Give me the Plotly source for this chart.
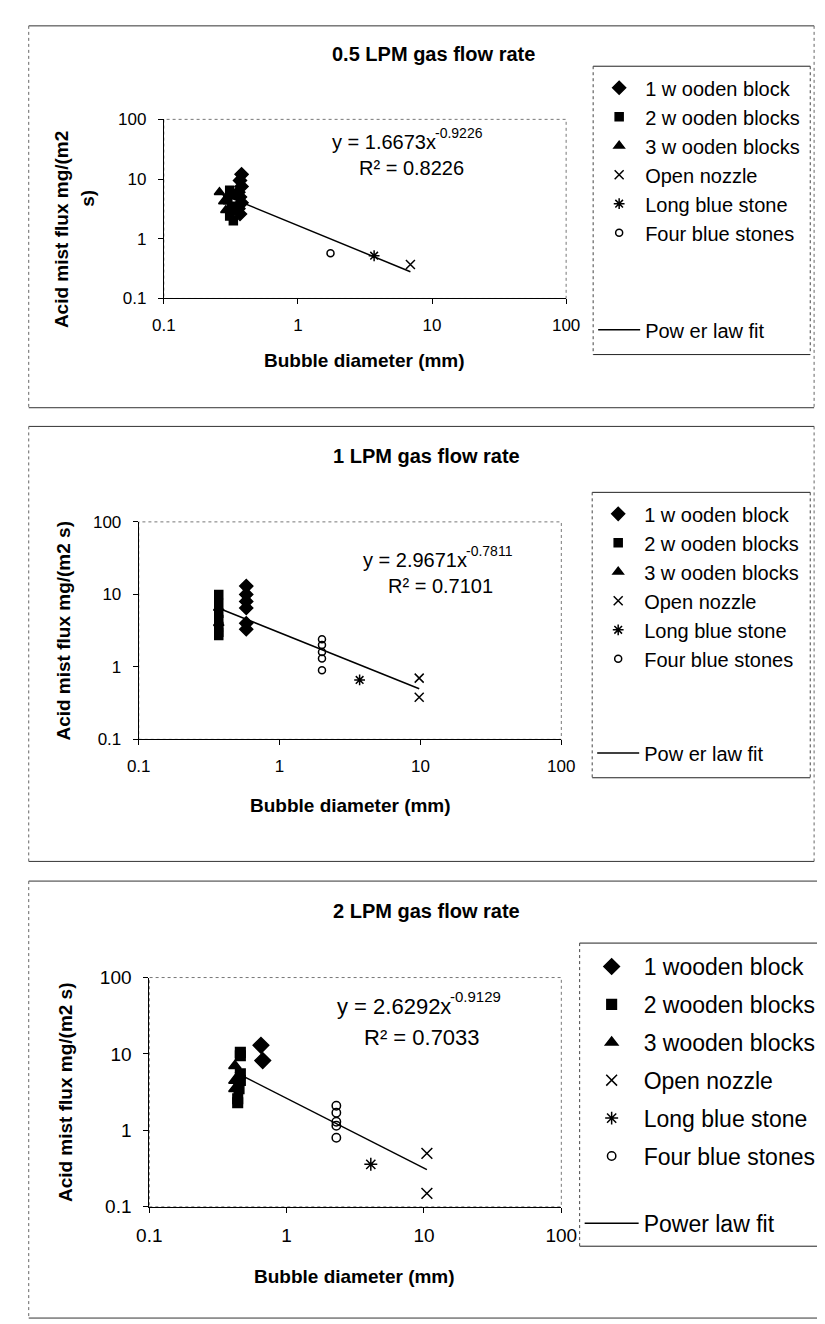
import numpy as np
import plotly.graph_objects as go

W, H = 825, 1324
FONT = "Liberation Sans, Arial, sans-serif"

# ---------------- data ----------------
tick_vals = [0.1, 1, 10, 100]
tick_text = ["0.1", "1", "10", "100"]

names_ab = ["1 w ooden block", "2 w ooden blocks", "3 w ooden blocks",
            "Open nozzle", "Long blue stone", "Four blue stones"]
fit_name_ab = "Pow er law fit"
names_c = ["1 wooden block", "2 wooden blocks", "3 wooden blocks",
           "Open nozzle", "Long blue stone", "Four blue stones"]
fit_name_c = "Power law fit"

titles = ["0.5 LPM gas flow rate", "1 LPM gas flow rate", "2 LPM gas flow rate"]

# Panel 1 : 0.5 LPM
p1_wb1_x = [0.38, 0.37, 0.38, 0.36, 0.37, 0.38, 0.36, 0.37]
p1_wb1_y = [12, 9.5, 7.5, 6, 5, 4, 3.2, 2.6]
p1_wb2_x = [0.31, 0.33, 0.30, 0.32, 0.34, 0.31, 0.33]
p1_wb2_y = [6.5, 5.5, 4.5, 3.5, 3.0, 2.4, 2.0]
p1_wb3_x = [0.26, 0.28, 0.29]
p1_wb3_y = [6.0, 4.2, 3.0]
p1_open_x = [6.9]
p1_open_y = [0.37]
p1_long_x = [3.7]
p1_long_y = [0.52]
p1_four_x = [1.75]
p1_four_y = [0.57]
p1_fit = (1.6673, -0.9226, 0.8226)

# Panel 2 : 1 LPM
p2_wb1_x = [0.58, 0.58, 0.58, 0.58, 0.58, 0.58]
p2_wb1_y = [13, 10, 8, 6.5, 4.0, 3.3]
p2_wb2_x = [0.37, 0.37, 0.37, 0.37, 0.37, 0.37, 0.37]
p2_wb2_y = [10, 7.5, 5.5, 4.5, 3.6, 3.0, 2.7]
p2_wb3_x = [0.37, 0.37]
p2_wb3_y = [6.5, 4.0]
p2_open_x = [9.8, 9.8]
p2_open_y = [0.70, 0.38]
p2_long_x = [3.7]
p2_long_y = [0.66]
p2_four_x = [2.0, 2.0, 2.0, 2.0, 2.0]
p2_four_y = [2.4, 2.0, 1.6, 1.3, 0.9]
p2_fit = (2.9671, -0.7811, 0.7101)

# Panel 3 : 2 LPM
p3_wb1_x = [0.65, 0.67]
p3_wb1_y = [13, 8.2]
p3_wb2_x = [0.46, 0.46, 0.46, 0.46, 0.45, 0.44, 0.44]
p3_wb2_y = [10.5, 9.5, 5.5, 4.5, 3.5, 2.6, 2.3]
p3_wb3_x = [0.42, 0.42, 0.42]
p3_wb3_y = [7.0, 4.5, 3.5]
p3_open_x = [10.5, 10.5]
p3_open_y = [0.50, 0.15]
p3_long_x = [4.1]
p3_long_y = [0.36]
p3_four_x = [2.3, 2.3, 2.3, 2.3, 2.3]
p3_four_y = [2.1, 1.7, 1.3, 1.15, 0.8]
p3_fit = (2.6292, -0.9129, 0.7033)

panel_data = [
    [(p1_wb1_x, p1_wb1_y), (p1_wb2_x, p1_wb2_y), (p1_wb3_x, p1_wb3_y),
     (p1_open_x, p1_open_y), (p1_long_x, p1_long_y), (p1_four_x, p1_four_y)],
    [(p2_wb1_x, p2_wb1_y), (p2_wb2_x, p2_wb2_y), (p2_wb3_x, p2_wb3_y),
     (p2_open_x, p2_open_y), (p2_long_x, p2_long_y), (p2_four_x, p2_four_y)],
    [(p3_wb1_x, p3_wb1_y), (p3_wb2_x, p3_wb2_y), (p3_wb3_x, p3_wb3_y),
     (p3_open_x, p3_open_y), (p3_long_x, p3_long_y), (p3_four_x, p3_four_y)],
]
fits = [p1_fit, p2_fit, p3_fit]

# ---------------- layout geometry (pixels) ----------------
def fx(px):
    return px / W


def fy(py):
    return 1 - py / H


geo = [
    dict(plot=(148, 565, 103, 285), frame=(8, 822, 8, 396), title=(428, 37),
         xt=(356, 348), yt=[("Acid mist flux mg/(m2", 42, 215), ("s)", 68, 183)],
         eq=(431, 126, 405, 152), eqsize=20, tick=17,
         leg=(593, 51), fitleg=(593, 297), box=(593, 818, 49, 342),
         legfont=20, itemw=42, names=names_ab, fitname=fit_name_ab, msz=1.0),
    dict(plot=(122, 560, 512, 733), frame=(8, 822, 415, 857), title=(420, 445),
         xt=(341, 800), yt=[("Acid mist flux mg/(m2 s)", 44, 622)],
         eq=(463, 551, 435, 577), eqsize=20, tick=17,
         leg=(592, 484), fitleg=(592, 727), box=(592, 818, 482, 772),
         legfont=20, itemw=42, names=names_ab, fitname=fit_name_ab, msz=1.0),
    dict(plot=(133, 560, 975, 1208), frame=(8, 830, 877, 1321), title=(420, 907),
         xt=(346, 1279), yt=[("Acid mist flux mg/(m2 s)", 46, 1091)],
         eq=(447, 1004, 416, 1036), eqsize=22, tick=19,
         leg=(579, 942), fitleg=(579, 1203), box=(579, 845, 940, 1248),
         legfont=23, itemw=54, names=names_c, fitname=fit_name_c, msz=1.2),
]

base_styles = [
    dict(symbol="diamond", size=10),
    dict(symbol="square", size=8),
    dict(symbol="triangle-up", size=9),
    dict(symbol="x-thin-open", size=9),
    dict(symbol="asterisk-open", size=9),
    dict(symbol="circle-open", size=7),
]

fig = go.Figure()
shapes = []
annotations = []
layout_extra = {}

for i, (g, data, fit) in enumerate(zip(geo, panel_data, fits)):
    sfx = "" if i == 0 else str(i + 1)
    xa, ya = "x" + sfx, "y" + sfx
    leg = "legend" + sfx
    fitleg = "legend" + str(i + 4)
    x0, x1, y0, y1 = g["plot"]
    per_group = (i == 2)

    allx = []
    for k, ((xs, ys), nm, st) in enumerate(zip(data, g["names"], base_styles)):
        allx += list(xs)
        fig.add_trace(go.Scatter(
            x=xs, y=ys, mode="markers", name=nm,
            xaxis=xa, yaxis=ya, legend=leg,
            legendgroup=("g%d_%d" % (i, k)) if per_group else ("m%d" % i),
            marker=dict(symbol=st["symbol"], size=st["size"] * g["msz"], color="black",
                        line=dict(color="black", width=1.5)),
            showlegend=True,
        ))

    a, b, r2 = fit
    fx_line = np.geomspace(min(allx), max(allx), 20)
    fig.add_trace(go.Scatter(
        x=fx_line, y=a * fx_line ** b, mode="lines", name=g["fitname"],
        xaxis=xa, yaxis=ya, legend=fitleg,
        line=dict(color="black", width=1.5), showlegend=True, hoverinfo="skip"))

    axis_common = dict(
        type="log", range=[-1, 2], tickvals=tick_vals, ticktext=tick_text,
        ticks="outside", ticklen=5, tickcolor="black", tickwidth=1,
        showline=True, linecolor="black", linewidth=1, showgrid=False,
        zeroline=False, tickfont=dict(family=FONT, size=g["tick"], color="black"),
    )
    layout_extra["xaxis" + sfx] = dict(axis_common, domain=[fx(x0), fx(x1)], anchor=ya,
                                       ticklabelstandoff=6)
    layout_extra["yaxis" + sfx] = dict(axis_common, domain=[fy(y1), fy(y0)], anchor=xa,
                                       ticklabelstandoff=8)

    # legends (markers, then the fit entry lower in the same box)
    lx, ly = g["leg"]
    layout_extra[leg] = dict(
        x=fx(lx), y=fy(ly), xanchor="left", yanchor="top",
        borderwidth=0, bgcolor="rgba(0,0,0,0)",
        font=dict(family=FONT, size=g["legfont"], color="black"),
        itemwidth=g["itemw"], traceorder="grouped",
        tracegroupgap=5 if per_group else 0,
        itemclick=False, itemdoubleclick=False,
    )
    flx, fly = g["fitleg"]
    layout_extra[fitleg] = dict(
        x=fx(flx), y=fy(fly), xanchor="left", yanchor="top",
        borderwidth=0, bgcolor="rgba(0,0,0,0)",
        font=dict(family=FONT, size=g["legfont"], color="black"),
        itemwidth=g["itemw"], itemclick=False, itemdoubleclick=False,
    )

    # legend box
    bx0, bx1, by0, by1 = g["box"]
    for yy in (by0, by1):
        shapes.append(dict(type="line", xref="paper", yref="paper",
                           x0=fx(bx0), x1=fx(bx1), y0=fy(yy), y1=fy(yy),
                           line=dict(color="#222", width=1)))
    for xx in (bx0, bx1):
        shapes.append(dict(type="line", xref="paper", yref="paper",
                           x0=fx(xx), x1=fx(xx), y0=fy(by0), y1=fy(by1),
                           line=dict(color="#444", width=1, dash="dot")))

    # plot area dotted border
    shapes.append(dict(type="rect", xref="paper", yref="paper",
                       x0=fx(x0), x1=fx(x1), y0=fy(y1), y1=fy(y0),
                       line=dict(color="#777", width=1, dash="dot"), layer="below"))

    # panel frame
    fx0, fx1, fy0, fy1 = g["frame"]
    for yy in (fy0, fy1):
        shapes.append(dict(type="line", xref="paper", yref="paper",
                           x0=fx(fx0), x1=fx(fx1), y0=fy(yy), y1=fy(yy),
                           line=dict(color="#333", width=1)))
    for xv in (fx0, fx1):
        shapes.append(dict(type="line", xref="paper", yref="paper",
                           x0=fx(xv), x1=fx(xv), y0=fy(fy0), y1=fy(fy1),
                           line=dict(color="#666", width=1, dash="dot")))

    # title
    tx, ty = g["title"]
    annotations.append(dict(text="<b>%s</b>" % titles[i], x=fx(tx), y=fy(ty),
                            xref="paper", yref="paper", showarrow=False,
                            xanchor="center", yanchor="middle",
                            font=dict(family=FONT, size=20, color="black")))
    # x title
    xtx, xty = g["xt"]
    annotations.append(dict(text="<b>Bubble diameter (mm)</b>", x=fx(xtx), y=fy(xty),
                            xref="paper", yref="paper", showarrow=False,
                            xanchor="center", yanchor="middle",
                            font=dict(family=FONT, size=19, color="black")))
    # y title
    for (txt, px, py) in g["yt"]:
        annotations.append(dict(text="<b>%s</b>" % txt, x=fx(px), y=fy(py),
                                xref="paper", yref="paper", showarrow=False,
                                textangle=-90, xanchor="center", yanchor="middle",
                                font=dict(family=FONT, size=19, color="black")))
    # equation: base text and exponent as separate texts
    ex, ey, rx, ry = g["eq"]
    es = g["eqsize"]
    annotations.append(dict(text="y = %.4fx" % a, x=fx(ex), y=fy(ey),
                            xref="paper", yref="paper", showarrow=False,
                            xanchor="right", yanchor="middle", borderpad=0,
                            font=dict(family=FONT, size=es, color="black")))
    annotations.append(dict(text="%.4f" % b, x=fx(ex - 3), y=fy(ey - 0.45 * es),
                            xref="paper", yref="paper", showarrow=False,
                            xanchor="left", yanchor="middle", borderpad=0,
                            font=dict(family=FONT, size=round(es * 0.7), color="black")))
    annotations.append(dict(text="R² = %.4f" % r2, x=fx(rx), y=fy(ry),
                            xref="paper", yref="paper", showarrow=False,
                            xanchor="center", yanchor="middle",
                            font=dict(family=FONT, size=es, color="black")))

fig.update_layout(
    width=W, height=H,
    margin=dict(l=0, r=0, t=0, b=0),
    paper_bgcolor="white", plot_bgcolor="white",
    font=dict(family=FONT, color="black"),
    shapes=shapes, annotations=annotations,
    **layout_extra,
)

fig.write_html("out.html")
